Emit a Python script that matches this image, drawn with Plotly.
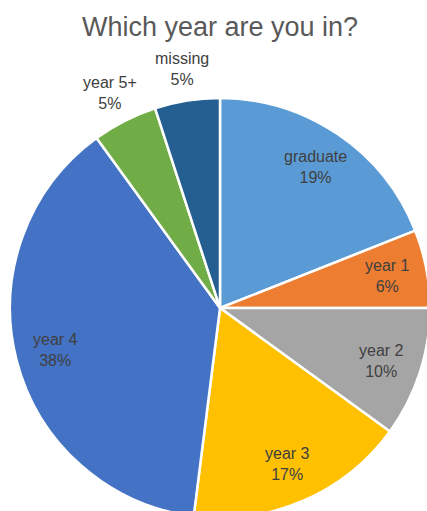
import math
import plotly.graph_objects as go

# Survey responses: year of study
categories = ["graduate", "year 1", "year 2", "year 3", "year 4", "year 5+", "missing"]
shares = [19, 6, 10, 17, 38, 5, 5]
colors = ["#5B9BD5", "#ED7D31", "#A5A5A5", "#FFC000", "#4472C4", "#70AD47", "#255E91"]
label_outside = [False, False, False, False, False, True, True]

FONT = "Liberation Sans, Arial, sans-serif"

fig = go.Figure(
    go.Pie(
        labels=categories,
        values=shares,
        sort=False,
        direction="clockwise",
        rotation=0,
        marker=dict(colors=colors, line=dict(color="white", width=2.5)),
        textinfo="none",
        automargin=False,
        showlegend=False,
        hoverinfo="label+percent",
    )
)

# Data labels placed radially at each slice's mid-angle
# (pie domain is square and fills the plot area: centre 0.5, radius 0.5 in paper units)
total = sum(shares)
cum = 0.0
for name, val, outside in zip(categories, shares, label_outside):
    mid = (cum + val / 2) / total * 2 * math.pi  # clockwise from 12 o'clock
    cum += val
    frac = 1.15 if outside else 0.81
    fig.add_annotation(
        x=0.5 + 0.5 * frac * math.sin(mid),
        y=0.5 + 0.5 * frac * math.cos(mid),
        xref="paper",
        yref="paper",
        text=f"{name}<br>{round(100 * val / total)}%",
        showarrow=False,
        xanchor="center",
        yanchor="middle",
        align="center",
        font=dict(family=FONT, size=16, color="#404040"),
    )

fig.update_layout(
    width=440,
    height=520,
    margin=dict(l=10, r=10, t=98, b=2),
    paper_bgcolor="white",
    title=dict(
        text="Which year are you in?",
        x=0.5,
        xanchor="center",
        xref="paper",
        y=0.968,
        yanchor="top",
        font=dict(family=FONT, size=27, color="#595959"),
    ),
)

fig.write_html(
    "out.html",
    post_script="document.body.style.margin='0';document.body.style.overflow='hidden';"
                "document.documentElement.style.overflow='hidden';",
)
